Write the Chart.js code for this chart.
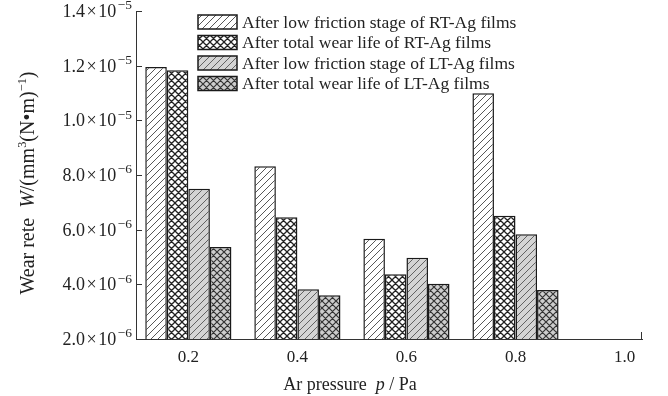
<!DOCTYPE html>
<html>
<head>
<meta charset="utf-8">
<script src="https://cdn.jsdelivr.net/npm/chart.js@4/dist/chart.umd.min.js"></script>
<style>
  html, body { margin: 0; padding: 0; background: #fff; }
  #c { display: block; }
</style>
</head>
<body>
<canvas id="c" width="668" height="396"></canvas>
<script>
// Ar pressure (Pa) of each bar group
const pressures = [0.2, 0.4, 0.6, 0.8];

// Series names
const seriesNames = [
  'After low friction stage of RT-Ag films',
  'After total wear life of RT-Ag films',
  'After low friction stage of LT-Ag films',
  'After total wear life of LT-Ag films'
];

// Wear rate, mm^3/(N·m)
const rtLowFriction = [11.95e-6, 8.32e-6, 5.67e-6, 10.99e-6];
const rtTotalLife   = [11.83e-6, 6.45e-6, 4.37e-6, 6.51e-6];
const ltLowFriction = [7.50e-6, 3.82e-6, 4.97e-6, 5.83e-6];
const ltTotalLife   = [5.37e-6, 3.60e-6, 4.02e-6, 3.79e-6];

// Axis ticks
const xTickValues = [0.2, 0.4, 0.6, 0.8, 1.0];
const xTickLabels = ['0.2', '0.4', '0.6', '0.8', '1.0'];
const yTickValues = [2.0e-6, 4.0e-6, 6.0e-6, 8.0e-6, 1.0e-5, 1.2e-5, 1.4e-5];
const yTickMantissas = ['2.0', '4.0', '6.0', '8.0', '1.0', '1.2', '1.4'];
const yTickExponents = ['−6', '−6', '−6', '−6', '−5', '−5', '−5'];

const SERIF = '"Liberation Serif", "DejaVu Serif", serif';
const INK = '#222';

// Hatch fills
function makePattern(fill, kind, lineColor, lineWidth) {
  const s = 7;
  const c = document.createElement('canvas');
  c.width = s; c.height = s;
  const g = c.getContext('2d');
  g.fillStyle = fill;
  g.fillRect(0, 0, s, s);
  g.strokeStyle = lineColor;
  g.lineWidth = lineWidth;
  g.lineCap = 'square';
  g.beginPath();
  // "/" lines
  g.moveTo(-1, s + 1); g.lineTo(s + 1, -1);
  g.moveTo(-1, 1); g.lineTo(1, -1);
  g.moveTo(s - 1, s + 1); g.lineTo(s + 1, s - 1);
  if (kind === 'cross') {
    // "\" lines
    g.moveTo(-1, -1); g.lineTo(s + 1, s + 1);
    g.moveTo(-1, s - 1); g.lineTo(1, s + 1);
    g.moveTo(s - 1, -1); g.lineTo(s + 1, 1);
  }
  g.stroke();
  return document.getElementById('c').getContext('2d').createPattern(c, 'repeat');
}

const fills = [
  makePattern('#ffffff', 'diag', '#444', 0.9),
  makePattern('#ffffff', 'cross', '#222', 1.3),
  makePattern('#d4d4d4', 'diag', '#555', 0.9),
  makePattern('#cdcdcd', 'cross', '#333', 1.2)
];

const seriesValues = [rtLowFriction, rtTotalLife, ltLowFriction, ltTotalLife];

const datasets = seriesValues.map((vals, k) => ({
  label: seriesNames[k],
  data: pressures.map((p, i) => ({ x: p, y: vals[i] })),
  backgroundColor: fills[k],
  borderColor: '#1a1a1a',
  borderWidth: 1.5,
  categoryPercentage: 0.79,
  barPercentage: 1.0
}));

// Text made of runs with italic / superscript parts
function fontFor(s, size) {
  return (s.i ? 'italic ' : '') + (s.sup ? size * (s.supScale || 0.75) : size) + 'px ' + SERIF;
}
function richWidth(ctx, segs, size) {
  let w = 0;
  segs.forEach(s => {
    ctx.font = fontFor(s, size);
    w += ctx.measureText(s.t).width + (s.gap || 0);
  });
  return w;
}
function drawRich(ctx, segs, size, x, baseY, align) {
  const total = richWidth(ctx, segs, size);
  if (align === 'center') x -= total / 2;
  else if (align === 'right') x -= total;
  ctx.textAlign = 'left';
  ctx.textBaseline = 'alphabetic';
  segs.forEach(s => {
    ctx.font = fontFor(s, size);
    ctx.fillText(s.t, x, baseY - (s.sup ? size * 0.42 : 0));
    x += ctx.measureText(s.t).width + (s.gap || 0);
  });
}

const yTitle = [
  { t: 'Wear rete  ' },
  { t: 'W', i: true },
  { t: '/(mm' },
  { t: '3', sup: true, supScale: 0.62 },
  { t: '(N•m)' },
  { t: '−1', sup: true, supScale: 0.62 },
  { t: ')' }
];
const xTitle = [
  { t: 'Ar pressure  ' },
  { t: 'p', i: true },
  { t: ' / Pa' }
];

const decor = {
  id: 'decor',
  afterDraw(chart) {
    const ctx = chart.ctx;
    const xs = chart.scales.x, ys = chart.scales.y;
    ctx.save();
    // inward tick marks on the value axis
    ctx.strokeStyle = '#333';
    ctx.lineWidth = 1;
    ctx.beginPath();
    yTickValues.forEach(v => {
      const py = Math.round(ys.getPixelForValue(v)) + 0.5;
      ctx.moveTo(xs.left, py);
      ctx.lineTo(xs.left + 6, py);
    });
    // closing tick at the right end of the pressure axis
    const rx = Math.round(xs.right) - 0.5;
    ctx.moveTo(rx, ys.bottom);
    ctx.lineTo(rx, ys.bottom - 7);
    ctx.stroke();

    ctx.fillStyle = INK;
    // value axis labels: mantissa × 10^exponent
    yTickValues.forEach((v, i) => {
      const py = ys.getPixelForValue(v);
      drawRich(ctx, [
        { t: yTickMantissas[i], gap: 1.5 },
        { t: '×', gap: 1.5 },
        { t: '10', gap: 1.5 },
        { t: yTickExponents[i], sup: true }
      ], 18, xs.left - 4, py + 6, 'right');
    });
    // pressure axis labels
    ctx.font = '17px ' + SERIF;
    ctx.textAlign = 'center';
    ctx.textBaseline = 'alphabetic';
    xTickValues.forEach((v, i) => {
      ctx.fillText(xTickLabels[i], xs.getPixelForValue(v), ys.bottom + 23);
    });

    // legend
    const lx = 198, bw = 39, bh = 14, y0 = 22, dy = 20.5;
    chart.data.datasets.forEach((ds, k) => {
      const cy = y0 + k * dy;
      ctx.fillStyle = ds.backgroundColor;
      ctx.fillRect(lx, cy - bh / 2, bw, bh);
      ctx.strokeStyle = '#1a1a1a';
      ctx.lineWidth = 1.5;
      ctx.strokeRect(lx, cy - bh / 2, bw, bh);
      ctx.fillStyle = INK;
      ctx.font = '17.5px ' + SERIF;
      ctx.textAlign = 'left';
      ctx.textBaseline = 'middle';
      ctx.fillText(ds.label, lx + 44, cy + 1);
    });

    // axis titles
    ctx.fillStyle = INK;
    drawRich(ctx, xTitle, 18, 350, 390, 'center');
    ctx.translate(34, 183);
    ctx.rotate(-Math.PI / 2);
    drawRich(ctx, yTitle, 20, 0, 0, 'center');
    ctx.restore();
  }
};

new Chart(document.getElementById('c'), {
  type: 'bar',
  data: { datasets },
  options: {
    responsive: false,
    animation: false,
    devicePixelRatio: 1,
    layout: { padding: { top: 11, right: 26, left: 0, bottom: 0 } },
    plugins: { legend: { display: false }, tooltip: { enabled: false } },
    scales: {
      x: {
        type: 'linear',
        offset: false,
        min: 0.104,
        max: 1.032,
        grid: { display: false, drawTicks: false, offset: false },
        border: { display: true, color: '#333', width: 1 },
        afterBuildTicks: s => { s.ticks = xTickValues.map(v => ({ value: v })); },
        afterFit: s => { s.height = 57; },
        ticks: { display: false }
      },
      y: {
        min: 2.0e-6,
        max: 1.4e-5,
        grid: { display: false, drawTicks: false },
        border: { display: true, color: '#333', width: 1 },
        afterBuildTicks: s => { s.ticks = yTickValues.map(v => ({ value: v })); },
        afterFit: s => { s.width = 136; },
        ticks: { display: false }
      }
    }
  },
  plugins: [decor]
});
</script>
</body>
</html>
